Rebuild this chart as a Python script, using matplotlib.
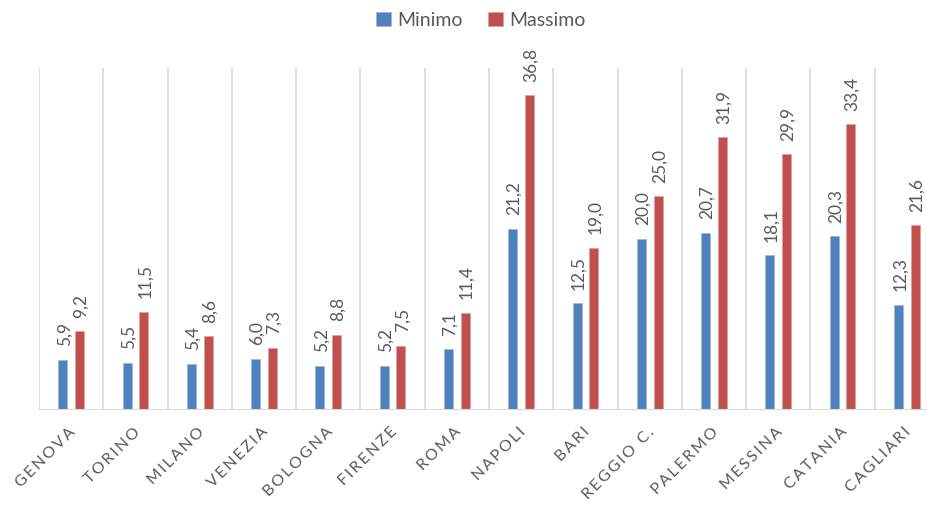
import matplotlib
matplotlib.use("Agg")
import matplotlib.pyplot as plt
import numpy as np

categories = ["GENOVA", "TORINO", "MILANO", "VENEZIA", "BOLOGNA", "FIRENZE", "ROMA",
              "NAPOLI", "BARI", "REGGIO C.", "PALERMO", "MESSINA", "CATANIA", "CAGLIARI"]
minimo = [5.9, 5.5, 5.4, 6.0, 5.2, 5.2, 7.1, 21.2, 12.5, 20.0, 20.7, 18.1, 20.3, 12.3]
massimo = [9.2, 11.5, 8.6, 7.3, 8.8, 7.5, 11.4, 36.8, 19.0, 25.0, 31.9, 29.9, 33.4, 21.6]

BLUE = "#4F81BD"
RED = "#C0504D"
GRID = "#D9D9D9"
TXT = "#595959"
FAM = ["Lato", "DejaVu Sans"]
plt.rcParams["font.family"] = FAM

fig = plt.figure(figsize=(9.28, 5.06), dpi=100)
ax = fig.add_axes([39/928, 95/506, 900/928, 342/506])

x = np.arange(len(categories))
w = 0.14
off = 0.13
b1 = ax.bar(x - off, minimo, w, color=BLUE, edgecolor="#9DB8DB", linewidth=0.6, label="Minimo", zorder=3)
b2 = ax.bar(x + off, massimo, w, color=RED, edgecolor="#DDA09E", linewidth=0.6, label="Massimo", zorder=3)

def fmt(v):
    return f"{v:.1f}".replace(".", ",")

for bars, vals in ((b1, minimo), (b2, massimo)):
    for r, v in zip(bars, vals):
        ax.annotate(fmt(v), (r.get_x() + r.get_width()/2, v), xytext=(1, 10.5),
                    textcoords="offset points", rotation=90, ha="center", va="bottom",
                    fontsize=12.5, color=TXT)

ax.set_xlim(-0.5, len(categories) - 0.5)
ax.set_ylim(0, 40)
for b in np.arange(-0.5, len(categories), 1.0):
    ax.axvline(b, color=GRID, linewidth=1.2, zorder=1)
ax.axhline(0, color=GRID, linewidth=1.5, zorder=4)

for s in ax.spines.values():
    s.set_visible(False)
ax.set_yticks([])
ax.set_xticks([])

for xi, c in zip(x, categories):
    lab = "\u2009".join(list(c))
    ax.annotate(lab, (xi, 0), xytext=(-2, -10), textcoords="offset points",
                rotation=45, ha="right", va="top", rotation_mode="anchor",
                fontsize=11.5, color=TXT, annotation_clip=False)

leg = fig.legend(handles=[b1, b2], labels=["Minimo", "Massimo"], loc="center",
                 bbox_to_anchor=(481/928, 1 - 21/506), ncol=2, frameon=False,
                 fontsize=14, handlelength=0.75, handleheight=0.75, handletextpad=0.35,
                 columnspacing=1.3, labelcolor=TXT)

fig.savefig("out.png", dpi=100)
